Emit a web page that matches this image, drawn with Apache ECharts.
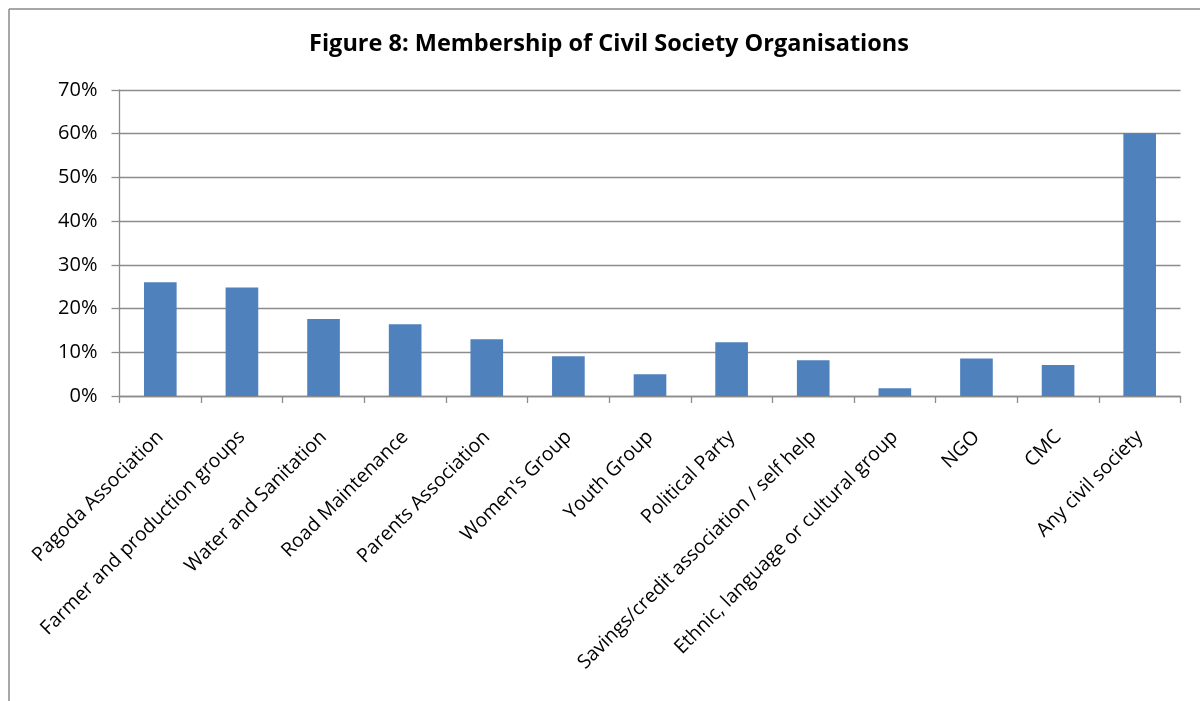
<!DOCTYPE html>
<html>
<head>
<meta charset="utf-8">
<script src="https://cdn.jsdelivr.net/npm/echarts@6/dist/echarts.min.js"></script>
<style>
  html, body { margin: 0; padding: 0; background: #fff; }
  #chart { width: 1200px; height: 701px; }
</style>
</head>
<body>
<div id="chart"></div>
<script>
// Survey categories (x axis)
const categories = [
  'Pagoda Association',
  'Farmer and production groups',
  'Water and Sanitation',
  'Road Maintenance',
  'Parents Association',
  "Women's Group",
  'Youth Group',
  'Political Party',
  'Savings/credit association / self help',
  'Ethnic, language or cultural group',
  'NGO',
  'CMC',
  'Any civil society'
];

// Share of respondents who are members (%)
const membership = [26.0, 24.8, 17.6, 16.4, 13.0, 9.1, 5.0, 12.3, 8.2, 1.8, 8.6, 7.1, 60.1];

// Y axis range (%)
const yMin = 0;
const yMax = 70;
const yStep = 10;

const titleText = 'Figure 8: Membership of Civil Society Organisations';

const chart = echarts.init(document.getElementById('chart'), null, { renderer: 'canvas' });
const axisGray = '#8c8c8c';
const fontFam = '"Open Sans", Lato, sans-serif';

chart.setOption({
  animation: false,
  backgroundColor: '#ffffff',
  title: {
    text: titleText,
    left: 604,
    textAlign: 'center',
    top: 27,
    textStyle: { fontFamily: fontFam, fontWeight: 'bold', fontSize: 23.5, color: '#000' }
  },
  graphic: [
    { type: 'line', shape: { x1: 9, y1: 9, x2: 1200, y2: 9 }, style: { stroke: '#8a8a8a', lineWidth: 1.5 } },
    { type: 'line', shape: { x1: 9, y1: 9, x2: 9, y2: 701 }, style: { stroke: '#8a8a8a', lineWidth: 1.5 } }
  ],
  grid: { left: 119.5, right: 19.5, top: 90, bottom: 305, containLabel: false },
  xAxis: {
    type: 'category',
    data: categories,
    boundaryGap: true,
    axisLine: { show: true, lineStyle: { color: axisGray, width: 1.3 } },
    axisTick: { show: true, length: 7, inside: false, lineStyle: { color: axisGray, width: 1.3 } },
    axisLabel: {
      interval: 0,
      rotate: 45,
      margin: 38,
      fontFamily: fontFam,
      fontSize: 19.5,
      color: '#000'
    },
    splitLine: { show: false }
  },
  yAxis: {
    type: 'value',
    min: yMin,
    max: yMax,
    interval: yStep,
    axisLine: { show: true, lineStyle: { color: axisGray, width: 1.3 } },
    axisTick: { show: true, length: 8, inside: false, lineStyle: { color: axisGray, width: 1.3 } },
    axisLabel: {
      formatter: v => v + '%',
      margin: 22,
      fontFamily: fontFam,
      fontSize: 20,
      color: '#000'
    },
    splitLine: { show: true, lineStyle: { color: axisGray, width: 1.3 } }
  },
  series: [{
    type: 'bar',
    data: membership,
    barWidth: '40%',
    itemStyle: { color: '#4f81bd' }
  }]
});
</script>
</body>
</html>
